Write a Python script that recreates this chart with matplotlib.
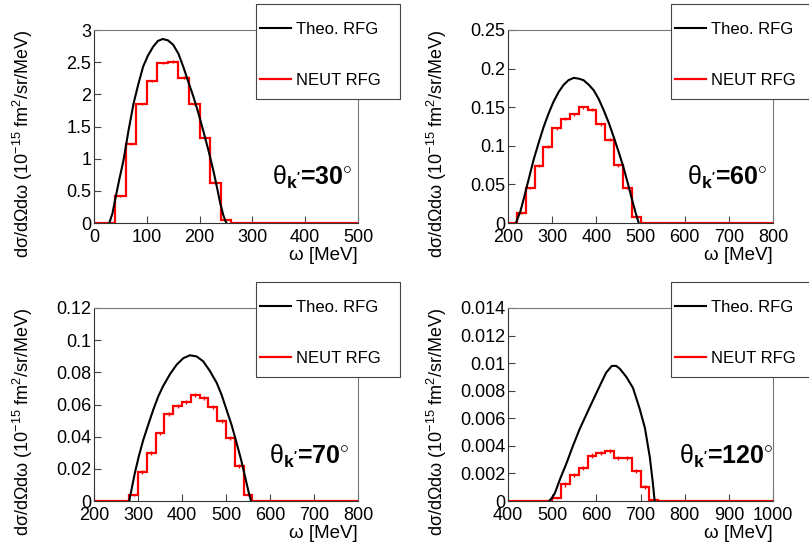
import numpy as np
import matplotlib.pyplot as plt
from matplotlib.patches import Rectangle
from matplotlib.ticker import MultipleLocator, FormatStrFormatter

plt.rcParams['font.family'] = 'sans-serif'
plt.rcParams['font.sans-serif'] = ['Liberation Sans']
plt.rcParams['mathtext.fontset'] = 'custom'
plt.rcParams['mathtext.rm'] = 'Liberation Sans'
plt.rcParams['mathtext.it'] = 'Liberation Sans:italic'
plt.rcParams['mathtext.bf'] = 'Liberation Sans:bold'

W, H = 809, 550
BIN = 20

# --- theta = 30 deg ---
theo30_w = [29, 35, 40, 48, 56, 65, 75, 84, 93, 102, 112, 121, 130, 140, 150, 160,
            169, 178, 188, 198, 208, 218, 227, 233, 239, 245, 249, 251]
theo30_y = [0, 0.15, 0.36, 0.68, 0.98, 1.42, 1.86, 2.16, 2.43, 2.60, 2.74, 2.83, 2.86,
            2.84, 2.77, 2.63, 2.43, 2.21, 1.97, 1.70, 1.40, 1.09, 0.78, 0.55, 0.31,
            0.12, 0.03, 0]
neut30_lo = 40
neut30 = [0.42, 1.23, 1.85, 2.21, 2.49, 2.51, 2.26, 1.85, 1.32, 0.62, 0.05]
neut30_err = [0.02, 0.02, 0.02, 0.02, 0.02, 0.02, 0.02, 0.02, 0.02, 0.02, 0.01]

# --- theta = 60 deg ---
theo60_w = [218, 228, 235, 247, 258, 270, 281, 292, 303, 315, 326, 337, 349, 360,
            371, 383, 394, 405, 416, 428, 439, 450, 461, 471, 481, 489, 496]
theo60_y = [0, 0.015, 0.030, 0.057, 0.082, 0.105, 0.125, 0.142, 0.157, 0.170, 0.179,
            0.185, 0.188, 0.187, 0.185, 0.179, 0.172, 0.161, 0.147, 0.130, 0.112,
            0.093, 0.073, 0.052, 0.030, 0.013, 0]
neut60_lo = 220
neut60 = [0.013, 0.045, 0.074, 0.099, 0.123, 0.135, 0.141, 0.150, 0.147, 0.128,
          0.108, 0.075, 0.045, 0.008]
neut60_err = [0.001, 0.0015, 0.002, 0.002, 0.002, 0.002, 0.002, 0.002, 0.002, 0.002,
              0.002, 0.002, 0.0015, 0.001]

# --- theta = 70 deg ---
theo70_w = [280, 293, 302, 312, 324, 335, 346, 357, 373, 388, 403, 418, 433, 448,
            463, 479, 490, 501, 513, 524, 534, 543, 551, 557]
theo70_y = [0, 0.0176, 0.028, 0.038, 0.048, 0.057, 0.065, 0.0714, 0.079, 0.0848,
            0.0888, 0.0906, 0.0899, 0.0869, 0.081, 0.0734, 0.066, 0.0569, 0.047,
            0.0362, 0.026, 0.0155, 0.006, 0]
neut70_lo = 280
neut70 = [0.004, 0.018, 0.030, 0.042, 0.054, 0.059, 0.0615, 0.066, 0.064, 0.0585,
          0.050, 0.039, 0.022, 0.0035]
neut70_err = [0.0006, 0.0012, 0.0012, 0.0012, 0.0012, 0.0012, 0.0012, 0.0012, 0.0012,
              0.0012, 0.0012, 0.0012, 0.0012, 0.0006]

# --- theta = 120 deg ---
theo120_w = [493, 499, 506, 518, 532, 547, 562, 585, 607, 622, 635, 645, 653, 668,
             683, 698, 710, 721, 728, 732]
theo120_y = [0, 0.0002, 0.00056, 0.0016, 0.0027, 0.0040, 0.0052, 0.0068, 0.0083,
             0.0093, 0.0098, 0.0098, 0.0096, 0.0090, 0.0082, 0.0067, 0.0053, 0.0032,
             0.0013, 0]
neut120_lo = 500
neut120 = [0.0002, 0.0012, 0.0019, 0.0024, 0.0033, 0.0035, 0.0036, 0.0031, 0.0031,
           0.0022, 0.0010, 0.0001]
neut120_err = [0.00005, 0.00015, 0.00015, 0.00015, 0.00015, 0.00015, 0.00015, 0.00015,
               0.00015, 0.00015, 0.00015, 0.00005]

panels = [
    # angle, theory, hist, x range, y range, y step, axes px box, legend px box, label pos
    ('30', theo30_w, theo30_y, neut30_lo, neut30, neut30_err, (0, 500), (0, 3), 0.5,
     (94, 30, 358, 223), (256, 4, 400, 99), (0.673, 0.235)),
    ('60', theo60_w, theo60_y, neut60_lo, neut60, neut60_err, (200, 800), (0, 0.25), 0.05,
     (508, 30, 773, 223), (671, 4, 810, 99), (0.675, 0.235)),
    ('70', theo70_w, theo70_y, neut70_lo, neut70, neut70_err, (200, 800), (0, 0.12), 0.02,
     (94, 308, 358, 501), (256, 282, 400, 377), (0.664, 0.23)),
    ('120', theo120_w, theo120_y, neut120_lo, neut120, neut120_err, (400, 1000), (0, 0.014), 0.002,
     (508, 308, 773, 501), (671, 282, 810, 377), (0.644, 0.23)),
]

fig = plt.figure(figsize=(W / 100, H / 100), dpi=100)

for (ang, tw, ty, lo, hv, he, xr, yr, ystep, box, lbox, tpos) in panels:
    x0, y0, x1, y1 = box
    ax = fig.add_axes([x0 / W, 1 - y1 / H, (x1 - x0) / W, (y1 - y0) / H])

    edges = np.arange(xr[0], xr[1] + BIN, BIN)
    vals = np.zeros(len(edges) - 1)
    i0 = (lo - xr[0]) // BIN
    vals[i0:i0 + len(hv)] = hv
    centers = lo + BIN / 2 + BIN * np.arange(len(hv))

    ax.stairs(vals, edges, color='red', lw=1.6, zorder=2, label='NEUT RFG')
    ax.errorbar(centers, hv, yerr=he, fmt='none', ecolor='red', elinewidth=1.0, zorder=2)
    th, = ax.plot(tw, ty, color='black', lw=1.5, zorder=3, label='Theo. RFG')

    ax.set_xlim(*xr)
    ax.set_ylim(*yr)
    ax.xaxis.set_major_locator(MultipleLocator(100))
    ax.yaxis.set_major_locator(MultipleLocator(ystep))
    ax.yaxis.set_major_formatter(FormatStrFormatter('%g'))
    ax.tick_params(direction='in', length=5, width=0.8, labelsize=13, color='#444')
    ax.tick_params(axis='y', pad=2)
    ax.tick_params(axis='x', pad=4)
    for name, s in ax.spines.items():
        s.set_linewidth(0.8)
        s.set_color('#333' if name in ('left', 'bottom') else '#777')

    ax.set_xlabel('ω [MeV]', fontsize=13.5, loc='right')
    ax.xaxis.set_label_coords(1, -0.125)
    ax.set_ylabel('dσ/dΩdω (10$^{-15}$ fm$^{2}$/sr/MeV)', fontsize=13, loc='top')
    ax.yaxis.set_label_coords(-0.222, 1)

    ax.text(tpos[0], tpos[1], r"$\mathrm{θ}_{\mathbf{k'}}$=%s$^{\circ}$" % ang,
            transform=ax.transAxes, fontsize=18, fontweight='bold', ha='left', va='center')

    # legend box
    lx0, ly0, lx1, ly1 = lbox
    fig.add_artist(Rectangle((lx0 / W, 1 - ly1 / H), (lx1 - lx0) / W, (ly1 - ly0) / H,
                             transform=fig.transFigure, facecolor='white',
                             edgecolor='#444', lw=0.8, zorder=4))
    hist_handle = plt.Line2D([], [], color='red', lw=1.6)
    fig.legend([th, hist_handle], ['Theo. RFG', 'NEUT RFG'], loc='upper left',
               bbox_to_anchor=(lx0 / W + 4 / W, 1 - (ly0 + 18) / H),
               bbox_transform=fig.transFigure, frameon=False, borderpad=0,
               borderaxespad=0, labelspacing=2.15, handlelength=1.85,
               handletextpad=0.3, fontsize=12).set_zorder(5)

fig.savefig('out.png', dpi=100)
